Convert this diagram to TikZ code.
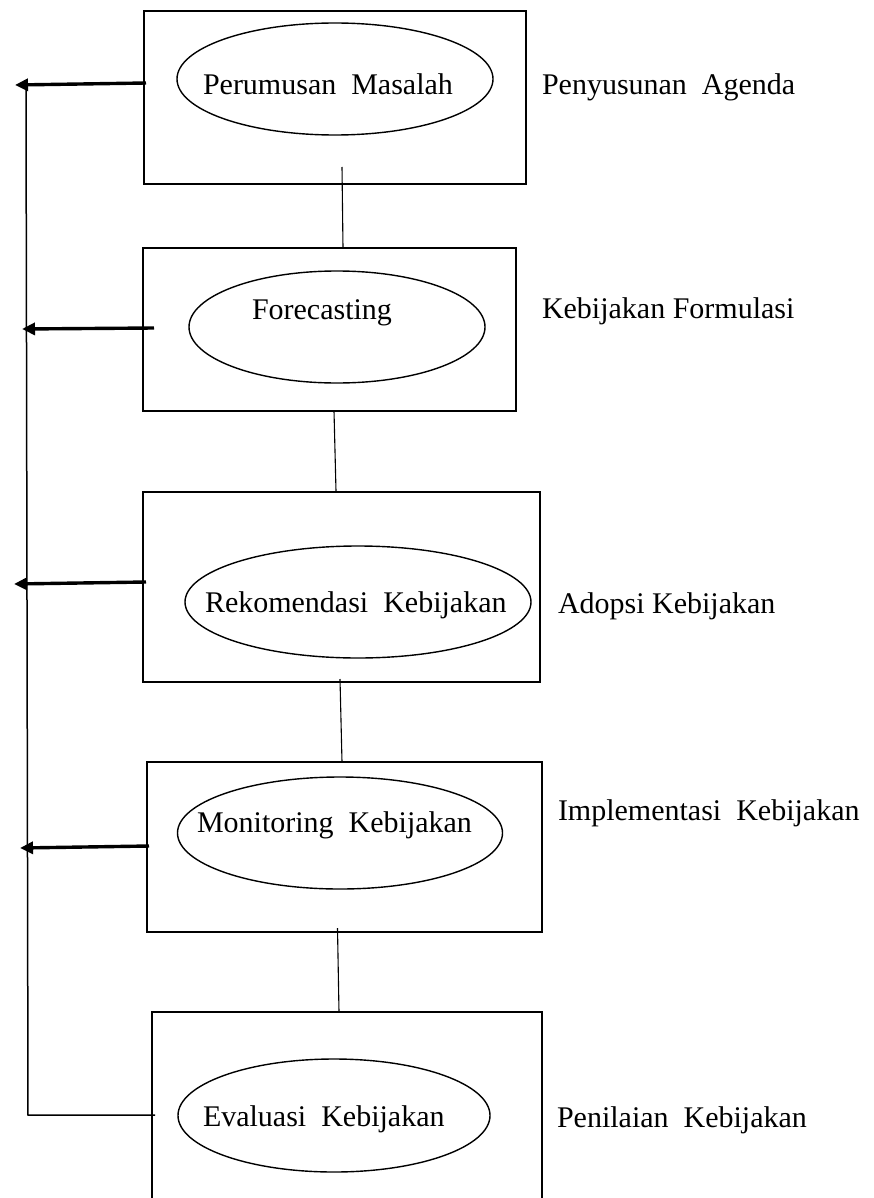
\documentclass[tikz,border=0pt]{standalone}
\usepackage{fontspec}
\setmainfont{Liberation Serif}
\usetikzlibrary{shapes.geometric,arrows.meta}
\begin{document}
\begin{tikzpicture}[x=1pt,y=-1pt,
  box/.style={draw,line width=1.8pt,inner sep=0pt,outer sep=0pt,anchor=north west},
  oval/.style={draw,ellipse,line width=1.4pt,inner sep=0pt,outer sep=0pt},
  txt/.style={anchor=base west,inner sep=0pt,outer sep=0pt,font=\fontsize{30}{36}\selectfont},
  link/.style={line width=1.1pt},
  back/.style={line width=3.4pt,-{Triangle[length=13pt,width=12pt]}},
  rail/.style={line width=1.5pt}]
\useasboundingbox (0,0) rectangle (873,1198);
% boxes
\node[box,minimum width=382pt,minimum height=173pt] (b1) at (144,11) {};
\node[box,minimum width=373pt,minimum height=163pt] (b2) at (143,248) {};
\node[box,minimum width=397pt,minimum height=190pt] (b3) at (143,492) {};
\node[box,minimum width=395pt,minimum height=170pt] (b4) at (147,762) {};
\coordinate (b5bl) at (152,1199);
\coordinate (b5tl) at (152,1012);
\coordinate (b5tr) at (542,1012);
\coordinate (b5br) at (542,1199);
\draw[line width=1.8pt] (b5bl) -- (b5tl) -- (b5tr) -- (b5br);
% ellipses
\node[oval,minimum width=316pt,minimum height=112pt] (e1) at (335,79) {};
\node[oval,minimum width=296pt,minimum height=112pt] (e2) at (337,327) {};
\node[oval,minimum width=346pt,minimum height=112pt] (e3) at (358,602) {};
\node[oval,minimum width=325pt,minimum height=112pt] (e4) at (340,833) {};
\node[oval,minimum width=312pt,minimum height=113pt] (e5) at (334,1115.5) {};
% texts in ellipses
\node[txt] (t1) at (203,95) {Perumusan\hspace{0.5em}Masalah};
\node[txt] (t2) at (252,319) {Forecasting};
\node[txt] (t3) at (205,612) {Rekomendasi\hspace{0.5em}Kebijakan};
\node[txt] (t4) at (197,832) {Monitoring\hspace{0.5em}Kebijakan};
\node[txt] (t5) at (203,1126) {Evaluasi\hspace{0.5em}Kebijakan};
% right labels
\node[txt] (r1) at (542,95) {Penyusunan\hspace{0.5em}Agenda};
\node[txt] (r2) at (542,318) {Kebijakan Formulasi};
\node[txt] (r3) at (558,613) {Adopsi Kebijakan};
\node[txt] (r4) at (558,820) {Implementasi\hspace{0.5em}Kebijakan};
\node[txt] (r5) at (557,1127) {Penilaian\hspace{0.5em}Kebijakan};
% vertical links
\coordinate (c1a) at (342,167); \coordinate (c1b) at (343,248);
\coordinate (c2a) at (334,411); \coordinate (c2b) at (336,491);
\coordinate (c3a) at (340,679); \coordinate (c3b) at (342,762);
\coordinate (c4a) at (337.5,928); \coordinate (c4b) at (339,1012);
\draw[link] (c1a) -- (c1b);
\draw[link] (c2a) -- (c2b);
\draw[link] (c3a) -- (c3b);
\draw[link] (c4a) -- (c4b);
% feedback arrows
\coordinate (a1s) at (146,83); \coordinate (a1e) at (15,85);
\coordinate (a2s) at (154,328); \coordinate (a2e) at (22,329);
\coordinate (a3s) at (146,582); \coordinate (a3e) at (14,584);
\coordinate (a4s) at (149,846); \coordinate (a4e) at (20,848);
\draw[back] (a1s) -- (a1e);
\draw[back] (a2s) -- (a2e);
\draw[back] (a3s) -- (a3e);
\draw[back] (a4s) -- (a4e);
% rail
\coordinate (rt) at (26,85);
\coordinate (rb) at (28,1115);
\coordinate (re) at (155,1115);
\draw[rail] (rt) -- (rb) -- (re);
\end{tikzpicture}
\end{document}
